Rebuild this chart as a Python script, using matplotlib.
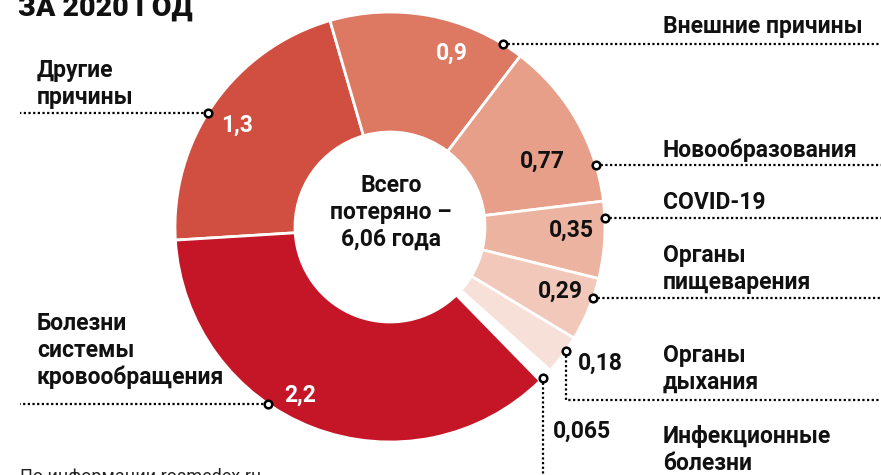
import numpy as np
import matplotlib.pyplot as plt

# canvas size in pixels
W, H = 881, 475

# data: years of life lost in 2020, by cause
causes = ['Другие\nпричины', 'Внешние причины', 'Новообразования', 'COVID-19',
          'Органы\nпищеварения', 'Органы\nдыхания', 'Инфекционные\nболезни',
          'Болезни\nсистемы\nкровообращения']
years = [1.3, 0.9, 0.77, 0.35, 0.29, 0.18, 0.065, 2.2]
year_labels = ['1,3', '0,9', '0,77', '0,35', '0,29', '0,18', '0,065', '2,2']
colors = ['#d14f41', '#dd7863', '#e89f89', '#ecb3a1', '#f2c8ba', '#f7e0d8',
          '#ffffff', '#c51628']
title = 'ЗА 2020 ГОД'
center_text = ['Всего', 'потеряно –', '6,06 года']
source = 'По информации rosmedex.ru'

plt.rcParams['font.family'] = ['Roboto', 'DejaVu Sans']

fig = plt.figure(figsize=(W / 100, H / 100), dpi=100)
ax = fig.add_axes([0, 0, 1, 1])


def py(y):
    # pixel row (from top) -> data y
    return H - y


cx, cy, R, ring = 390, py(227), 215, 120
ax.pie(years, colors=colors, startangle=183.5, counterclock=False,
       radius=R, center=(cx, cy),
       wedgeprops=dict(width=ring, edgecolor='white', linewidth=2))
ax.set_xlim(0, W)
ax.set_ylim(0, H)
ax.set_aspect('equal')
ax.axis('off')

FS = 16.5
dark = '#111111'

# category labels: x, first baseline
label_pos = [(37, 77), (663, 33), (663, 157), (663, 209), (663, 262),
             (663, 362), (663, 443), (37, 330)]
line_step = 27
for name, (x, y0) in zip(causes, label_pos):
    for k, line in enumerate(name.split('\n')):
        ax.text(x, py(y0 + k * line_step), line, fontsize=FS, fontweight='bold',
                color=dark, ha='left', va='baseline')

# value labels: center x, baseline
value_pos = [(237, 132), (452, 60), (542, 168), (571, 237), (560, 298),
             (600, 370), (582, 438), (300, 402)]
value_col = ['white', 'white', dark, dark, dark, dark, dark, 'white']
for txt, (x, y), c in zip(year_labels, value_pos, value_col):
    ax.text(x, py(y), txt, fontsize=FS, fontweight='bold', color=c,
            ha='center', va='baseline')

# leader lines
dot = dict(color='black', lw=1.6, linestyle=(0, (1, 1.1)), zorder=4)
mk = dict(marker='o', ms=5.5, mfc='white', mec='black', mew=1.8, zorder=5)


def edge_x(y, side):
    d = np.sqrt(R ** 2 - (py(y) - cy) ** 2)
    return cx + d if side > 0 else cx - d


# straight horizontal leaders: row, side
straight = [(113, -1), (44, 1), (165, 1), (218, 1), (298, 1), (404, -1)]
for y, side in straight:
    x0 = edge_x(y, side)
    x1 = W if side > 0 else 20
    ax.plot([x0, x1], [py(y), py(y)], **dot)
    ax.plot([x0], [py(y)], **mk)

# respiratory: down then right
x0 = edge_x(351, 1)
ax.plot([x0, x0, W], [py(351), py(400), py(400)], **dot)
ax.plot([x0], [py(351)], **mk)

# infectious: straight down
x0 = edge_x(378, 1)
ax.plot([x0, x0], [py(378), py(H + 10)], clip_on=False, **dot)
ax.plot([x0], [py(378)], **mk)

# centre text
for k, line in enumerate(center_text):
    ax.text(391, py(192 + k * 27), line, fontsize=FS, fontweight='bold',
            color=dark, ha='center', va='baseline')

# title (cut off at the top) and source (cut off at the bottom)
ax.text(18, py(16), title, fontsize=20.5, fontweight='black', color=dark,
        ha='left', va='baseline')
ax.text(20, py(482), source, fontsize=13, color='#222222',
        ha='left', va='baseline')

fig.savefig('out.png', dpi=100)
